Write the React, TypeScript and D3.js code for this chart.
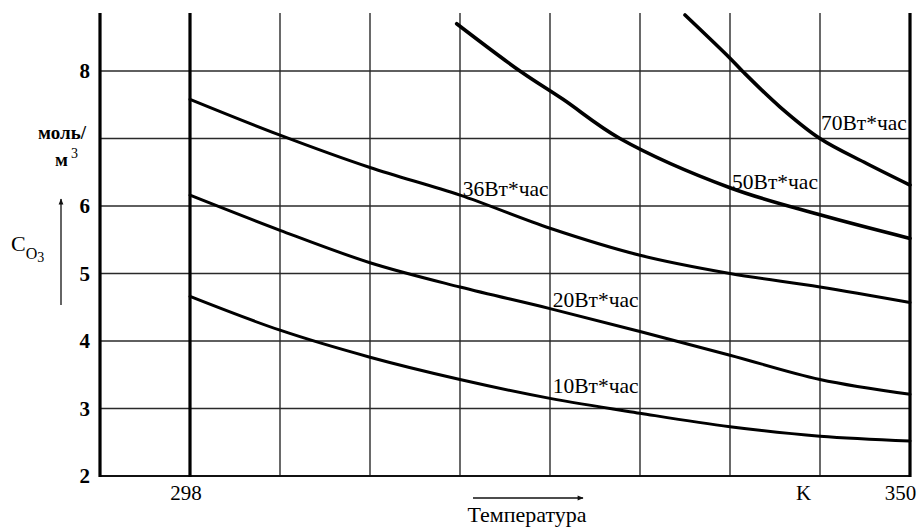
import { useRef, useEffect } from 'react';
import * as d3 from 'd3';

// temperature (K) vs ozone concentration (mol/m3)
const t10 = [298, 304.5, 311, 317.5, 324, 330.5, 337, 343.5, 350];
const c10 = [4.66, 4.16, 3.76, 3.43, 3.15, 2.93, 2.73, 2.59, 2.52];

const t20 = [298, 304.5, 311, 317.5, 324, 330.5, 337, 343.5, 350];
const c20 = [6.16, 5.64, 5.16, 4.8, 4.48, 4.14, 3.79, 3.43, 3.21];

const t36 = [298, 304.5, 311, 317.5, 324, 330.5, 337, 343.5, 350];
const c36 = [7.58, 7.05, 6.57, 6.16, 5.67, 5.27, 5.0, 4.8, 4.57];

const t50 = [317.26, 321.83, 324.94, 329.05, 337, 343.5, 350];
const c50 = [8.7, 8.0, 7.58, 7.0, 6.27, 5.87, 5.52];

const t70 = [333.75, 337, 337.94, 340.6, 343.5, 346.87, 350];
const c70 = [8.83, 8.19, 7.99, 7.47, 7.0, 6.63, 6.31];

const seriesLabels = ['10Вт*час', '20Вт*час', '36Вт*час', '50Вт*час', '70Вт*час'];
// label anchor (left x in K, baseline value)
const labelT = [324.2, 324.2, 317.7, 337.15, 343.57];
const labelC = [3.234, 4.51, 6.15, 6.25, 7.13];

const yTicks = [2, 3, 4, 5, 6, 8];
const yGrid = [3, 4, 5, 6, 7, 8];
const xGrid = [304.5, 311, 317.5, 324, 330.5, 337, 343.5];
const xLabels = ['298', 'K', '350'];
const xLabelPos = [298, 342.6, 349.6];

export default function App() {
  const svgRef = useRef<SVGSVGElement>(null);

  useEffect(() => {
    if (!svgRef.current) return;
    const svg = d3.select(svgRef.current);
    svg.selectAll('*').remove();

    const x = d3.scaleLinear().domain([291.5, 350]).range([100, 910]);
    const y = d3.scaleLinear().domain([2, 8]).range([476, 71]);
    const yTop = y(8.86);
    const font = '"Liberation Serif", "Times New Roman", serif';

    const defs = svg.append('defs');
    defs.append('marker')
      .attr('id', 'arr')
      .attr('viewBox', '0 0 10 10')
      .attr('refX', 9)
      .attr('refY', 5)
      .attr('markerWidth', 8)
      .attr('markerHeight', 6)
      .attr('markerUnits', 'userSpaceOnUse')
      .attr('orient', 'auto')
      .append('path')
      .attr('d', 'M0,1 L10,5 L0,9 Z')
      .attr('fill', '#111');

    const g = svg.append('g');

    // horizontal grid
    g.selectAll('.hg')
      .data(yGrid)
      .enter()
      .append('line')
      .attr('x1', x(291.5))
      .attr('x2', x(350))
      .attr('y1', d => y(d))
      .attr('y2', d => y(d))
      .attr('stroke', '#2a2a2a')
      .attr('stroke-width', 1.4);

    // vertical grid
    g.selectAll('.vg')
      .data(xGrid)
      .enter()
      .append('line')
      .attr('x1', d => x(d))
      .attr('x2', d => x(d))
      .attr('y1', yTop)
      .attr('y2', y(2))
      .attr('stroke', '#2a2a2a')
      .attr('stroke-width', 1.4);

    // bottom axis
    g.append('line')
      .attr('x1', x(291.5))
      .attr('x2', x(350))
      .attr('y1', y(2))
      .attr('y2', y(2))
      .attr('stroke', '#111')
      .attr('stroke-width', 2);

    // thick verticals: left axis, 298 K, 350 K
    g.selectAll('.tv')
      .data([291.5, 298, 350])
      .enter()
      .append('line')
      .attr('x1', d => x(d))
      .attr('x2', d => x(d))
      .attr('y1', yTop)
      .attr('y2', y(2) + 1)
      .attr('stroke', '#000')
      .attr('stroke-width', 3.2);

    // curves
    const sets = [
      { t: t10, c: c10, w: 3 },
      { t: t20, c: c20, w: 3 },
      { t: t36, c: c36, w: 3 },
      { t: t50, c: c50, w: 3.6 },
      { t: t70, c: c70, w: 3.6 },
    ];
    const line = d3.line<[number, number]>()
      .x(d => x(d[0]))
      .y(d => y(d[1]))
      .curve(d3.curveCatmullRom.alpha(0.5));

    sets.forEach(s => {
      const pts = s.t.map((t, i) => [t, s.c[i]] as [number, number]);
      g.append('path')
        .attr('d', line(pts))
        .attr('fill', 'none')
        .attr('stroke', '#000')
        .attr('stroke-width', s.w)
        .attr('stroke-linecap', 'round');
    });

    // series labels
    seriesLabels.forEach((lab, i) => {
      g.append('text')
        .attr('x', x(labelT[i]))
        .attr('y', y(labelC[i]))
        .attr('font-family', font)
        .attr('font-size', 21.5)
        .attr('fill', '#000')
        .text(lab);
    });

    // y tick labels
    g.selectAll('.yt')
      .data(yTicks)
      .enter()
      .append('text')
      .attr('x', 90)
      .attr('y', d => y(d) + 7)
      .attr('text-anchor', 'end')
      .attr('font-family', font)
      .attr('font-size', 21)
      .attr('font-weight', 'bold')
      .attr('fill', '#000')
      .text(d => d);

    // x labels
    xLabels.forEach((lab, i) => {
      g.append('text')
        .attr('x', x(xLabelPos[i]) - 4)
        .attr('y', 500)
        .attr('text-anchor', 'middle')
        .attr('font-family', font)
        .attr('font-size', 21)
        .attr('fill', '#000')
        .text(lab);
    });

    // unit label
    g.append('text')
      .attr('x', 86)
      .attr('y', 139)
      .attr('text-anchor', 'end')
      .attr('font-family', font)
      .attr('font-size', 19)
      .attr('font-weight', 'bold')
      .text('моль/');
    const m3 = g.append('text')
      .attr('x', 55)
      .attr('y', 166)
      .attr('font-family', font)
      .attr('font-size', 19)
      .attr('font-weight', 'bold');
    m3.append('tspan').text('м');
    m3.append('tspan').attr('dx', 3).attr('dy', -8).attr('font-size', 14).attr('font-weight', 'normal').text('3');

    // C_O3 label
    const co = g.append('text')
      .attr('x', 11)
      .attr('y', 251)
      .attr('font-family', font)
      .attr('font-size', 22)
      .attr('fill', '#000');
    co.append('tspan').text('C');
    co.append('tspan').attr('dy', 8).attr('font-size', 16).text('O');
    co.append('tspan').attr('dy', 3).attr('font-size', 14).text('3');

    // y arrow
    g.append('line')
      .attr('x1', 61)
      .attr('x2', 61)
      .attr('y1', 305)
      .attr('y2', 199)
      .attr('stroke', '#111')
      .attr('stroke-width', 1.3)
      .attr('marker-end', 'url(#arr)');

    // x arrow
    g.append('line')
      .attr('x1', 473)
      .attr('x2', 583)
      .attr('y1', 498)
      .attr('y2', 498)
      .attr('stroke', '#111')
      .attr('stroke-width', 1.3)
      .attr('marker-end', 'url(#arr)');

    g.append('text')
      .attr('x', 527)
      .attr('y', 522)
      .attr('text-anchor', 'middle')
      .attr('font-family', font)
      .attr('font-size', 22)
      .attr('fill', '#000')
      .text('Температура');
  }, []);

  return (
    <svg
      ref={svgRef}
      width={924}
      height={528}
      style={{ position: 'absolute', left: 0, top: 0, background: '#fff' }}
    />
  );
}
